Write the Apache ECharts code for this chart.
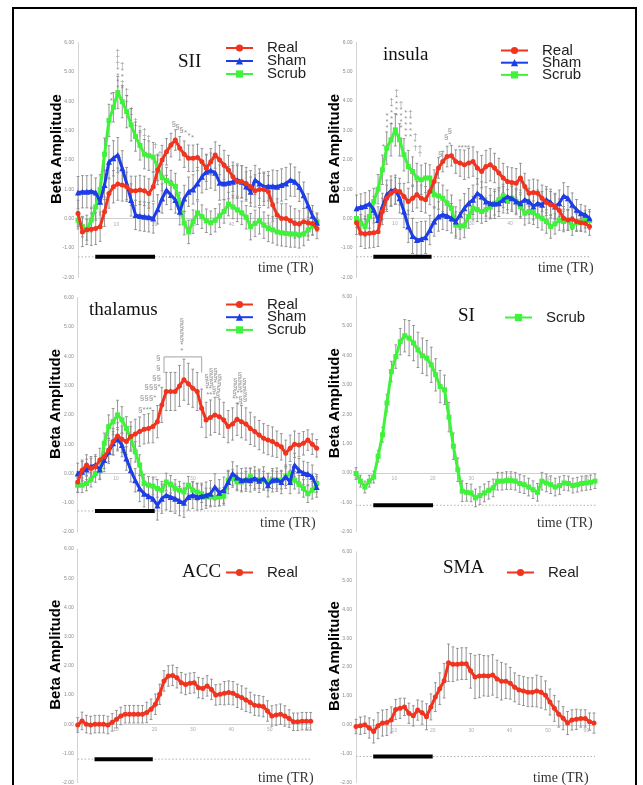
<!DOCTYPE html>
<html>
<head>
<meta charset="utf-8">
<script src="https://cdn.jsdelivr.net/npm/echarts@6/dist/echarts.min.js"></script>
<style>
  html, body { margin: 0; padding: 0; background: #fff; }
  #main { width: 643px; height: 785px; }
</style>
</head>
<body>
<div id="main"></div>
<script>
// ---- Beta amplitude time courses (one value per sample) ----
const siiReal  = [0.18,-0.45,-0.38,-0.36,-0.33,-0.27,0.24,0.86,1.09,1.18,1.15,1.09,0.95,0.95,0.98,0.95,0.86,1.09,1.66,2.0,2.28,2.51,2.68,2.4,2.2,2.06,2.06,2.09,1.94,1.72,1.94,2.17,2.0,1.83,1.66,1.43,1.26,1.26,1.2,1.09,0.95,1.0,1.0,0.92,0.47,0.13,0.01,0.01,-0.07,-0.16,-0.18,-0.1,-0.14,-0.16,-0.33];
const siiSham  = [0.89,0.92,0.92,0.94,0.89,0.58,1.15,1.94,2.06,2.17,1.72,1.2,0.64,0.13,0.09,0.07,0.05,0.01,0.32,0.69,0.98,0.81,0.64,0.24,0.69,0.92,1.0,1.2,1.43,1.6,1.64,1.57,1.23,1.2,1.23,1.26,1.32,1.26,1.1,0.92,1.32,1.2,1.09,1.11,1.11,1.09,1.15,1.2,1.32,1.26,1.09,0.8,0.45,0.1,-0.14];
const siiScrub = [-0.05,-0.27,-0.38,-0.05,0.4,1.0,2.2,3.35,3.8,4.3,3.99,3.65,3.2,2.8,2.5,2.2,2.15,2.1,1.75,1.4,1.3,1.2,1.1,0.5,-0.15,-0.45,-0.1,0.2,0.07,-0.07,-0.14,-0.05,0.1,0.25,0.5,0.4,0.3,0.2,0.05,-0.27,-0.16,-0.07,-0.22,-0.33,-0.38,-0.45,-0.48,-0.5,-0.52,-0.52,-0.55,-0.52,-0.38,-0.25,-0.1];
const siiRealErr  = [0.45,0.5,0.5,0.55,0.55,0.5,0.5,0.5,0.55,0.55,0.55,0.5,0.5,0.5,0.5,0.5,0.5,0.5,0.5,0.5,0.45,0.4,0.35,0.4,0.45,0.45,0.45,0.45,0.45,0.45,0.45,0.45,0.5,0.5,0.5,0.5,0.55,0.55,0.55,0.55,0.55,0.55,0.55,0.55,0.55,0.55,0.5,0.5,0.5,0.5,0.45,0.45,0.45,0.4,0.35];
const siiShamErr  = [0.55,0.55,0.55,0.55,0.5,0.45,0.5,0.55,0.6,0.6,0.6,0.55,0.55,0.5,0.5,0.5,0.5,0.5,0.5,0.5,0.5,0.5,0.45,0.45,0.45,0.5,0.5,0.55,0.55,0.6,0.6,0.6,0.6,0.55,0.55,0.55,0.55,0.55,0.5,0.5,0.5,0.5,0.5,0.5,0.55,0.55,0.55,0.55,0.55,0.5,0.5,0.45,0.4,0.35,0.3];
const siiScrubErr = [0.3,0.35,0.35,0.4,0.45,0.5,0.55,0.55,0.5,0.55,0.55,0.55,0.55,0.5,0.5,0.5,0.5,0.5,0.45,0.45,0.45,0.45,0.45,0.4,0.4,0.4,0.4,0.4,0.4,0.4,0.4,0.4,0.4,0.4,0.4,0.4,0.4,0.4,0.4,0.45,0.45,0.45,0.45,0.45,0.45,0.45,0.45,0.45,0.45,0.45,0.45,0.4,0.35,0.3,0.3];

const insulaReal  = [-0.14,-0.5,-0.52,-0.5,-0.48,-0.45,0.24,0.69,0.86,0.95,0.92,0.75,0.58,0.69,0.81,0.69,0.64,0.92,1.26,1.72,1.94,2.11,2.14,1.94,1.89,1.83,1.89,1.94,1.72,1.6,1.77,1.83,1.72,1.55,1.38,1.26,1.23,1.2,1.38,1.09,0.86,0.89,0.86,0.69,0.55,0.47,0.41,0.27,0.01,-0.05,-0.02,-0.1,-0.14,-0.16,-0.27];
const insulaSham  = [0.35,0.39,0.43,0.5,0.3,-0.05,0.41,0.81,0.95,0.98,0.69,0.24,-0.27,-0.59,-0.73,-0.7,-0.64,-0.39,-0.1,0.07,0.13,0.09,0.01,-0.1,0.13,0.35,0.52,0.64,0.86,0.75,0.58,0.52,0.5,0.52,0.64,0.75,0.69,0.58,0.52,0.64,0.58,0.41,0.52,0.47,0.64,0.55,0.41,0.52,0.77,0.69,0.47,0.3,0.18,0.13,0.01];
const insulaScrub = [0,-0.16,-0.27,0.07,0.58,1.0,1.66,2.4,2.68,3.02,2.68,2.17,1.77,1.6,1.38,1.32,1.38,1.38,0.81,0.77,0.69,0.52,0.35,-0.22,-0.25,-0.25,0.07,0.35,0.3,0.24,0.3,0.39,0.52,0.64,0.77,0.58,0.69,0.58,0.41,0.18,0.24,0.2,0.09,0.01,-0.1,-0.27,-0.18,-0.05,-0.1,-0.05,-0.27,-0.14,-0.1,-0.02,-0.07];
const insulaRealErr  = [0.4,0.45,0.5,0.5,0.5,0.5,0.45,0.45,0.45,0.45,0.45,0.45,0.45,0.45,0.45,0.45,0.45,0.45,0.4,0.35,0.35,0.35,0.35,0.4,0.45,0.5,0.5,0.5,0.55,0.55,0.55,0.55,0.5,0.5,0.5,0.5,0.5,0.5,0.5,0.45,0.45,0.45,0.45,0.45,0.45,0.45,0.4,0.4,0.4,0.35,0.35,0.3,0.3,0.3,0.3];
const insulaShamErr  = [0.45,0.45,0.45,0.45,0.45,0.45,0.45,0.5,0.5,0.5,0.5,0.55,0.55,0.6,0.6,0.6,0.55,0.5,0.5,0.5,0.5,0.5,0.5,0.5,0.5,0.5,0.5,0.5,0.5,0.5,0.5,0.5,0.5,0.45,0.45,0.45,0.45,0.45,0.45,0.45,0.45,0.45,0.45,0.45,0.45,0.45,0.45,0.45,0.45,0.4,0.4,0.35,0.3,0.3,0.3];
const insulaScrubErr = [0.3,0.3,0.35,0.4,0.45,0.5,0.5,0.55,0.55,0.55,0.55,0.55,0.55,0.5,0.5,0.5,0.5,0.45,0.45,0.45,0.45,0.45,0.45,0.45,0.45,0.4,0.4,0.4,0.4,0.4,0.4,0.4,0.4,0.4,0.4,0.4,0.4,0.4,0.4,0.4,0.4,0.4,0.4,0.4,0.4,0.4,0.35,0.35,0.35,0.35,0.3,0.3,0.3,0.3,0.3];

const thalReal  = [-0.29,0.11,0.29,0.17,0.23,0.46,0.57,0.8,1.09,1.28,1.17,1.09,1.26,1.35,1.43,1.51,1.54,1.6,1.77,2.34,2.8,2.8,2.8,2.99,3.2,3.06,2.91,2.8,2.23,1.83,1.91,2.0,1.94,1.83,1.6,1.69,1.85,1.77,1.69,1.54,1.43,1.31,1.2,1.14,1.09,1.0,0.91,0.69,0.86,1.0,0.97,1.03,1.14,1.0,0.86];
const thalSham  = [0,0.06,0.14,0.23,0.29,0.14,0.46,0.74,1.03,1.17,0.97,0.51,0.11,-0.23,-0.51,-0.69,-0.78,-0.86,-1.09,-0.86,-0.74,-0.8,-0.86,-0.94,-1.0,-0.8,-0.74,-0.8,-0.78,-0.74,-0.69,-0.46,-0.66,-0.57,-0.29,0,-0.14,-0.23,-0.21,-0.23,-0.17,-0.25,-0.17,-0.4,-0.23,-0.21,-0.29,-0.11,-0.29,0.29,0.11,0.02,-0.02,-0.11,-0.46];
const thalScrub = [-0.4,-0.4,-0.34,-0.21,0,0.11,1.03,1.6,1.77,2.0,1.83,1.54,1.2,0.74,0.29,-0.34,-0.4,-0.43,-0.51,-0.57,-0.29,-0.37,-0.51,-0.57,-0.63,-0.4,-0.57,-0.63,-0.69,-0.8,-0.8,-0.82,-0.8,-0.78,-0.23,-0.17,-0.29,-0.29,-0.23,-0.11,-0.21,-0.21,-0.23,-0.29,-0.21,-0.23,-0.23,-0.11,0,-0.23,-0.37,-0.51,-0.69,-0.57,-0.34];
const thalRealErr  = [0.35,0.35,0.35,0.35,0.35,0.4,0.4,0.4,0.45,0.45,0.45,0.45,0.5,0.5,0.5,0.5,0.5,0.55,0.55,0.6,0.65,0.65,0.65,0.7,0.7,0.7,0.65,0.65,0.65,0.6,0.6,0.6,0.6,0.6,0.55,0.55,0.55,0.55,0.55,0.55,0.5,0.5,0.5,0.5,0.5,0.45,0.45,0.45,0.45,0.45,0.4,0.4,0.35,0.35,0.3];
const thalShamErr  = [0.35,0.35,0.35,0.35,0.35,0.35,0.4,0.4,0.4,0.4,0.4,0.4,0.4,0.4,0.45,0.45,0.45,0.45,0.5,0.5,0.5,0.5,0.5,0.5,0.5,0.45,0.45,0.45,0.45,0.45,0.45,0.45,0.45,0.45,0.4,0.4,0.4,0.4,0.4,0.4,0.4,0.4,0.4,0.4,0.4,0.4,0.4,0.4,0.4,0.4,0.4,0.4,0.4,0.4,0.35];
const thalScrubErr = [0.25,0.25,0.25,0.25,0.3,0.3,0.35,0.4,0.45,0.5,0.45,0.4,0.4,0.35,0.35,0.3,0.3,0.3,0.3,0.3,0.3,0.3,0.3,0.3,0.3,0.3,0.3,0.3,0.3,0.3,0.3,0.3,0.3,0.3,0.3,0.3,0.3,0.3,0.3,0.3,0.3,0.3,0.3,0.3,0.3,0.3,0.3,0.3,0.3,0.3,0.3,0.3,0.3,0.3,0.3];

const siScrub    = [-0.02,-0.28,-0.48,-0.28,-0.14,0.57,1.3,2.38,3.45,3.96,4.47,4.67,4.59,4.42,4.19,3.99,3.91,3.68,3.34,2.94,2.83,1.9,0.91,0.11,-0.62,-0.66,-0.68,-0.85,-0.77,-0.68,-0.59,-0.51,-0.28,-0.28,-0.26,-0.26,-0.28,-0.36,-0.4,-0.48,-0.57,-0.66,-0.28,-0.34,-0.4,-0.48,-0.43,-0.34,-0.36,-0.43,-0.4,-0.36,-0.34,-0.32,-0.28];
const siScrubErr = [0.2,0.2,0.2,0.2,0.2,0.2,0.25,0.3,0.35,0.4,0.45,0.55,0.6,0.6,0.6,0.6,0.6,0.6,0.55,0.55,0.5,0.5,0.45,0.4,0.35,0.3,0.3,0.3,0.3,0.3,0.3,0.3,0.3,0.3,0.3,0.3,0.3,0.3,0.3,0.3,0.3,0.3,0.3,0.3,0.3,0.3,0.3,0.25,0.25,0.25,0.25,0.25,0.25,0.25,0.25];

const accReal    = [-0.03,0.11,0,-0.03,0,0,0,-0.03,0.06,0.17,0.28,0.34,0.34,0.34,0.34,0.34,0.4,0.51,0.68,1.02,1.48,1.65,1.67,1.59,1.42,1.36,1.4,1.42,1.25,1.22,1.31,1.19,1.0,1.02,1.06,1.08,1.06,0.97,0.91,0.83,0.74,0.65,0.63,0.6,0.45,0.28,0.31,0.34,0.28,0.19,0.08,0.08,0.1,0.1,0.1];
const accRealErr = [0.25,0.3,0.3,0.3,0.3,0.3,0.3,0.3,0.3,0.3,0.3,0.3,0.3,0.3,0.3,0.3,0.35,0.35,0.35,0.35,0.35,0.35,0.35,0.35,0.35,0.35,0.35,0.35,0.35,0.35,0.35,0.35,0.35,0.35,0.4,0.4,0.4,0.4,0.4,0.4,0.35,0.35,0.35,0.35,0.35,0.35,0.35,0.35,0.35,0.3,0.3,0.3,0.3,0.3,0.3];

const smaReal    = [-0.06,-0.03,0,-0.11,-0.23,-0.03,0.06,0.08,0.17,0.53,0.57,0.62,0.4,0.31,0.51,0.42,0.28,0.62,0.96,1.25,1.53,2.15,2.1,2.1,2.12,2.12,1.87,1.66,1.69,1.7,1.69,1.73,1.59,1.51,1.51,1.44,1.3,1.21,1.17,1.13,1.13,1.17,1.13,1.02,0.79,0.57,0.37,0.23,0.06,0.17,0.19,0.22,0.22,0.11,0.06];
const smaRealErr = [0.25,0.3,0.3,0.35,0.4,0.45,0.45,0.45,0.45,0.35,0.35,0.3,0.35,0.35,0.35,0.4,0.45,0.45,0.5,0.55,0.6,0.65,0.6,0.55,0.55,0.55,0.6,0.75,0.75,0.7,0.7,0.7,0.65,0.65,0.6,0.55,0.5,0.5,0.5,0.5,0.5,0.55,0.55,0.5,0.45,0.45,0.45,0.4,0.4,0.35,0.35,0.3,0.3,0.3,0.35];

// significance marks: [sample, beta, symbols]
const siiMarks = [[7.5,4.12,'*\n*'],[9,5.09,'†\n†\n†\n*\n*\n*\n*'],[10,4.84,'†\n*\n*\n†\n*'],[11,4.14,'†\n*\n†'],[12,3.5,'†\n†\n*'],[13,3.23,'†\n†'],[14,3.0,'†\n†'],[15,2.9,'†\n†'],[16,2.77,'†'],[17.5,2.5,'†'],[18.5,2.2,'†'],[21.6,3.23,'§'],[22.5,3.12,'§'],[23.4,3.02,'§'],[24.3,2.92,'*'],[25.1,2.84,'*'],[25.9,2.76,'*']];
const insulaMarks = [[6.2,2.45,'*'],[7.1,3.3,'*\n*\n*'],[8.1,3.6,'†\n*\n*\n*\n*'],[9.3,3.9,'†\n*\n*\n*\n*'],[10.3,3.5,'†\n*\n*\n*\n*'],[11.4,3.2,'*\n*\n*\n*\n*'],[12.5,3.2,'†\n*\n*\n*\n*'],[13.6,2.6,'†\n*\n†'],[14.7,2.3,'†\n†'],[19.4,2.2,'§'],[20.8,2.8,'§'],[21.6,3.0,'§'],[21.6,2.5,'*'],[24.9,2.4,'****']];
const thalMarks = [[15.2,2.17,'§***'],[15.9,2.57,'§§§*'],[16.9,2.95,'§§§*'],[17.8,3.26,'§§'],[18.2,3.6,'§'],[18.2,3.94,'§'],[23.5,4.71,'§\n§\n§\n§\n*\n*'],[30.6,3.09,'§§\n§§§§\n§§*§\n**§§\n***§'],[36.6,2.86,'§\n§§§\n§§§\n§**§\n**§§\n**']];
const thalBracket = [[19.5,3.43],[19.5,3.98],[28,3.98],[28,3.45]];

// stimulation window (in samples) and axis ticks
const stimWindow = [3.9, 17.4];
const timeTicks = [0, 10, 20, 30, 40, 50, 60];
const betaTicks = [-2, -1, 0, 1, 2, 3, 4, 5, 6];

const COLORS  = { Real: '#f0341f', Sham: '#1d3ee6', Scrub: '#3ff23a' };
const SYMBOLS = { Real: 'circle', Sham: 'triangle', Scrub: 'rect' };
const Z       = { Real: 6, Sham: 5, Scrub: 4 };
const TICK_PX = 38.4;   // pixel spacing of the time ticks
const SERIF = 'Liberation Serif';
const SANS  = 'Liberation Sans';

const panels = [
  { title: 'SII', rect: { left: 78, top: 42.7, width: 239, height: 234.7 },
    lines: { Real: [siiReal, siiRealErr], Sham: [siiSham, siiShamErr], Scrub: [siiScrub, siiScrubErr] },
    marks: siiMarks, barY: -1.3, titlePos: [178, 53], legendPos: [225, 40.5], legendLH: 13, timePos: [258, 261] },
  { title: 'insula', rect: { left: 356.5, top: 42.3, width: 233, height: 235 },
    lines: { Real: [insulaReal, insulaRealErr], Sham: [insulaSham, insulaShamErr], Scrub: [insulaScrub, insulaScrubErr] },
    marks: insulaMarks, barY: -1.3, titlePos: [383, 46], legendPos: [500, 43], legendLH: 12.2, timePos: [538, 261] },
  { title: 'thalamus', rect: { left: 77.7, top: 297.7, width: 239, height: 234.4 },
    lines: { Real: [thalReal, thalRealErr], Sham: [thalSham, thalShamErr], Scrub: [thalScrub, thalScrubErr] },
    marks: thalMarks, bracket: thalBracket, barY: -1.28, titlePos: [89, 301], legendPos: [225, 297], legendLH: 12.7, timePos: [260, 516] },
  { title: 'SI', rect: { left: 356, top: 296.7, width: 239, height: 235 },
    lines: { Scrub: [siScrub, siScrubErr] },
    marks: [], barY: -1.1, titlePos: [458, 307], legendPos: [504, 310], legendLH: 13, timePos: [537, 516] },
  { title: 'ACC', rect: { left: 77.7, top: 549, width: 233, height: 235 },
    lines: { Real: [accReal, accRealErr] },
    marks: [], barY: -1.2, titlePos: [182, 563], legendPos: [225, 565], legendLH: 13, timePos: [258, 771] },
  { title: 'SMA', rect: { left: 356, top: 551.7, width: 238, height: 235 },
    lines: { Real: [smaReal, smaRealErr] },
    marks: [], barY: -1.1, titlePos: [443, 559], legendPos: [506, 565], legendLH: 13, timePos: [533, 771] }
];

function renderErrorBar(params, api) {
  const x = api.value(0);
  const lo = api.coord([x, api.value(1)]);
  const hi = api.coord([x, api.value(2)]);
  const cap = 1.4;
  const style = { stroke: '#8a8a8a', lineWidth: 0.9 };
  return {
    type: 'group',
    children: [
      { type: 'line', shape: { x1: lo[0], y1: lo[1], x2: hi[0], y2: hi[1] }, style },
      { type: 'line', shape: { x1: hi[0] - cap, y1: hi[1], x2: hi[0] + cap, y2: hi[1] }, style },
      { type: 'line', shape: { x1: lo[0] - cap, y1: lo[1], x2: lo[0] + cap, y2: lo[1] }, style }
    ]
  };
}

const option = {
  animation: false,
  backgroundColor: '#ffffff',
  grid: [], xAxis: [], yAxis: [], series: [], legend: [], title: [],
  graphic: [{
    type: 'rect', silent: true, z: 0,
    shape: { x: 13, y: 8, width: 623, height: 800 },
    style: { fill: 'none', stroke: '#000', lineWidth: 2 }
  }]
};

panels.forEach((p, k) => {
  const xi = 2 * k;
  const nSamples = Object.values(p.lines)[0][0].length;
  option.grid.push(Object.assign({ containLabel: false }, p.rect));

  // sample axis: positions the data, draws nothing itself
  option.xAxis.push({
    type: 'value', gridIndex: k, min: 0, max: nSamples - 1, show: false,
    axisLine: { show: false, onZero: false },
    axisTick: { show: false }, axisLabel: { show: false }, splitLine: { show: false }
  });
  // time axis: zero line; its tick labels are written just under it
  option.xAxis.push({
    type: 'value', gridIndex: k, position: 'bottom', min: 0,
    max: p.rect.width / TICK_PX * 10, interval: 10,
    axisLine: { show: true, onZero: true, lineStyle: { color: '#cfcfcf', width: 1 } },
    axisTick: { show: false }, axisLabel: { show: false },
    splitLine: { show: false }
  });
  option.yAxis.push({
    type: 'value', gridIndex: k, min: betaTicks[0], max: betaTicks[betaTicks.length - 1], interval: 1,
    name: 'Beta Amplitude', nameLocation: 'middle', nameGap: 14, nameMoveOverlap: false,
    nameTextStyle: { fontFamily: SANS, fontWeight: 'bold', fontSize: 15, color: '#000', padding: [0, 0, 0, 22] },
    axisLine: { show: true, onZero: false, lineStyle: { color: '#d4d4d4', width: 1 } },
    axisTick: { show: false },
    axisLabel: { fontSize: 5, color: '#8a8a8a', margin: 4, formatter: v => v.toFixed(2) },
    splitLine: { show: false }
  });

  // time tick labels on the zero line
  option.series.push({
    type: 'scatter', xAxisIndex: xi + 1, yAxisIndex: k, silent: true, symbolSize: 0, z: 2,
    data: timeTicks.map(t => [t, 0]),
    label: { show: true, position: 'bottom', distance: 3, formatter: q => String(q.value[0]),
             fontSize: 5, color: '#9a9a9a' }
  });

  // dotted baseline and stimulation bar
  option.series.push({
    type: 'line', xAxisIndex: xi, yAxisIndex: k, silent: true, clip: false, symbol: 'none', z: 1,
    data: [[0, p.barY], [nSamples, p.barY]],
    lineStyle: { color: '#b0b0b0', width: 1, type: [1.5, 2] }
  });
  option.series.push({
    type: 'line', xAxisIndex: xi, yAxisIndex: k, silent: true, clip: false, symbol: 'none', z: 7,
    data: [[stimWindow[0], p.barY], [stimWindow[1], p.barY]],
    lineStyle: { color: '#000', width: 4, cap: 'butt' }
  });

  // error bars, then the mean curves
  Object.entries(p.lines).forEach(([name, [vals, errs]]) => {
    option.series.push({
      type: 'custom', xAxisIndex: xi, yAxisIndex: k, silent: true, z: 2,
      renderItem: renderErrorBar,
      encode: { x: 0, y: [1, 2] },
      data: vals.map((v, i) => [i, v - errs[i], v + errs[i]])
    });
  });
  Object.entries(p.lines).forEach(([name, [vals]]) => {
    option.series.push({
      name, type: 'line', xAxisIndex: xi, yAxisIndex: k, z: Z[name],
      data: vals.map((v, i) => [i, v]),
      symbol: SYMBOLS[name], symbolSize: name === 'Sham' ? 6 : 5, showSymbol: true,
      lineStyle: { width: 3, color: COLORS[name] },
      itemStyle: { color: COLORS[name] }
    });
  });

  if (p.bracket) {
    option.series.push({
      type: 'line', xAxisIndex: xi, yAxisIndex: k, silent: true, clip: false, symbol: 'none', z: 3,
      data: p.bracket, lineStyle: { color: '#b5b5b5', width: 1.2 }
    });
  }
  if (p.marks.length) {
    option.series.push({
      type: 'scatter', xAxisIndex: xi, yAxisIndex: k, silent: true, clip: false, symbolSize: 0, z: 3,
      data: p.marks.map(m => ({ value: [m[0], m[1]], name: m[2] })),
      label: { show: true, position: 'inside', formatter: '{b}', fontFamily: SANS,
               fontSize: 8, lineHeight: 6, color: '#777' }
    });
  }

  option.legend.push({
    data: Object.keys(p.lines), orient: 'vertical', selectedMode: false,
    left: p.legendPos[0], top: p.legendPos[1], padding: 0,
    itemWidth: 27, itemHeight: 9, itemGap: p.legendLH - 15,
    textStyle: { fontFamily: SANS, fontSize: 15, color: '#222', padding: [0, 0, 0, 9] }
  });

  option.title.push({
    text: p.title, left: p.titlePos[0], top: p.titlePos[1], padding: 0,
    textStyle: { fontFamily: SERIF, fontSize: 19, fontWeight: 'normal', color: '#111' }
  });
  option.title.push({
    text: 'time (TR)', left: p.timePos[0], top: p.timePos[1], padding: 0,
    textStyle: { fontFamily: SERIF, fontSize: 14, fontWeight: 'normal', color: '#333' }
  });
});

const chart = echarts.init(document.getElementById('main'), null, { renderer: 'canvas' });
chart.setOption(option);
</script>
</body>
</html>
